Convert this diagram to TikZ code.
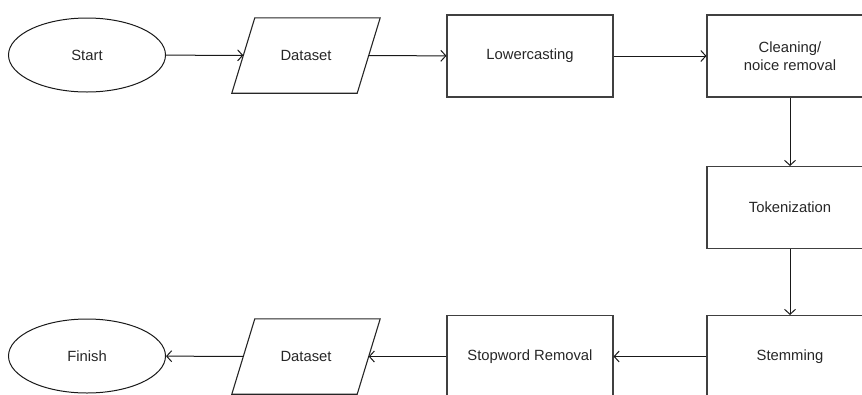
\documentclass[tikz,border=0pt]{standalone}
\usepackage{fontspec}
\setmainfont{Liberation Sans}
\usetikzlibrary{shapes.geometric,arrows.meta}
\begin{document}
\begin{tikzpicture}[x=1pt,y=-1pt,
  every node/.style={font=\fontsize{14.8}{17.5}\selectfont, text=black!85},
  terminal/.style={draw=black!90, line width=1pt, ellipse, minimum width=157pt, minimum height=74pt, inner sep=0pt},
  iobox/.style={rectangle, minimum width=125pt, minimum height=75pt, inner sep=0pt},
  ioline/.style={draw=black!85, line width=1.1pt},
  procbox/.style={draw=black!75, line width=1.05pt, rectangle, minimum width=166pt, minimum height=82pt, inner sep=0pt, align=center},
  flow/.style={draw=black!90, line width=1pt, -{Straight Barb[length=5pt,width=11pt,line width=1pt]}}
]
\useasboundingbox (0,0) rectangle (862,394);
\clip (0,0) rectangle (862,394);
\node[terminal] (start) at (87,55) {Start};
\node[iobox] (ds1) at (306,55.5) {Dataset};
\node[procbox] (lower) at (530,56) {Lowercasting};
\node[procbox] (clean) at (790,56) {Cleaning/\\noice removal};
\node[procbox] (token) at (790,207.5) {Tokenization};
\node[procbox] (stem) at (790,356.5) {Stemming};
\node[procbox] (stop) at (530,356.5) {Stopword Removal};
\node[iobox] (ds2) at (306,356.5) {Dataset};
\node[terminal] (finish) at (87,356) {Finish};
\foreach \d in {ds1,ds2}{
  \draw[ioline] ([xshift=-11.5pt]\d.south west) -- ([xshift=11.5pt]\d.north west)
    -- ([xshift=11.5pt]\d.north east) -- ([xshift=-11.5pt]\d.south east) -- cycle;
}
\draw[flow] (start) -- (ds1);
\draw[flow] (ds1) -- (lower);
\draw[flow] (lower) -- (clean);
\draw[flow] (clean) -- (token);
\draw[flow] (token) -- (stem);
\draw[flow] (stem) -- (stop);
\draw[flow] (stop) -- (ds2);
\draw[flow] (ds2) -- (finish);
\end{tikzpicture}
\end{document}
